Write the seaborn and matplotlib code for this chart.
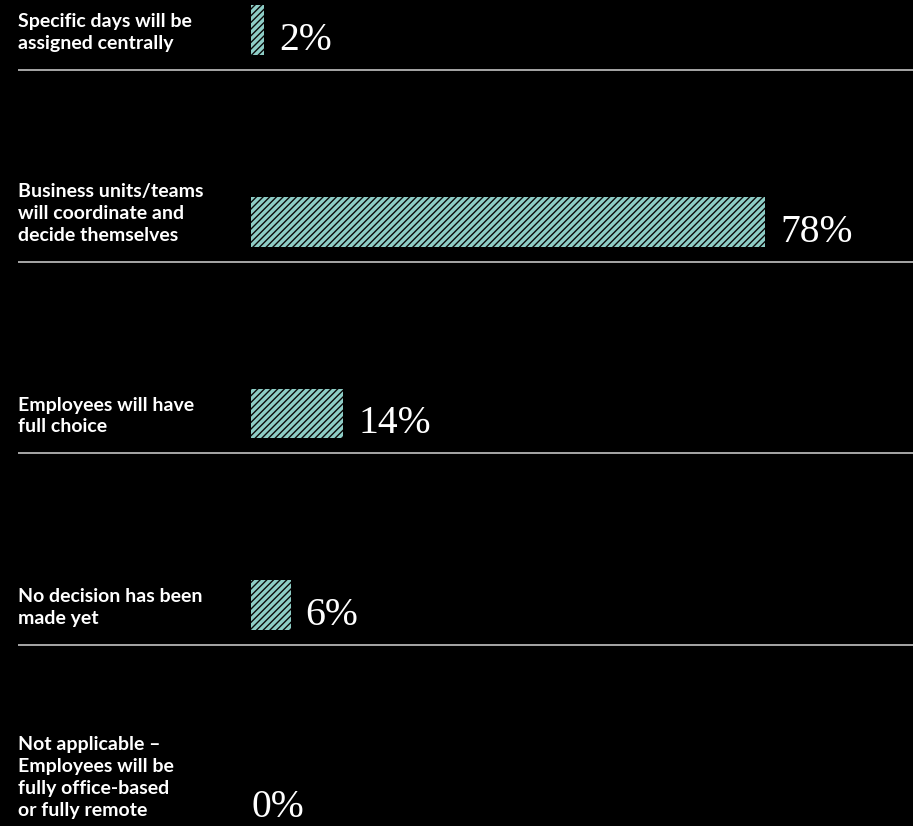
import matplotlib
matplotlib.use("Agg")
import matplotlib.pyplot as plt
import seaborn as sns
import pandas as pd

categories = [
    "Specific days will be\nassigned centrally",
    "Business units/teams\nwill coordinate and\ndecide themselves",
    "Employees will have\nfull choice",
    "No decision has been\nmade yet",
    "Not applicable –\nEmployees will be\nfully office-based\nor fully remote",
]
values = [2, 78, 14, 6, 0]
value_labels = ["2%", "78%", "14%", "6%", "0%"]

BG = "#000000"
TEAL = "#8ecdc6"

sns.set_theme(style="white")
plt.rcParams["hatch.color"] = "#0a0a0a"
plt.rcParams["hatch.linewidth"] = 1.0

fig = plt.figure(figsize=(9.13, 8.26), dpi=100, facecolor=BG)
ax = fig.add_axes([0, 0, 1, 1])
ax.set_facecolor(BG)

df = pd.DataFrame({"cat": categories, "val": values})
sns.barplot(data=df, x="val", y="cat", orient="h", color=TEAL, width=0.26,
            saturation=1, ax=ax, edgecolor="none", linewidth=0)
for p in ax.patches:
    p.set_hatch("/////")
    p.set_edgecolor("#0a0a0a")
    p.set_linewidth(0)

px = 6.59  # pixels per percent
ax.set_xlim(-251 / px, (913 - 251) / px)
step = 191.75
ax.set_ylim(4 + (826 - 797) / step, -30 / step)
ax.axis("off")

x_label = -233 / px
half = 0.13
for i, (lab, v, vl) in enumerate(zip(categories, values, value_labels)):
    ax.text(x_label, i + half - 3 / step, lab, ha="left", va="bottom",
            color="white", fontsize=14, fontweight="bold", family="Lato",
            linespacing=1.35)
    gap = 15 / px if v > 0 else 0
    ax.text(v + gap, i + half - 5 / step, vl, ha="left", va="baseline",
            color="white", fontsize=28.5, family="Liberation Serif")
    if i < len(categories) - 1:
        ax.hlines(i + 40 / step, x_label, 100.5, color="#b4b4b4", linewidth=1.3)

fig.savefig("out.png", dpi=100, facecolor=BG)
